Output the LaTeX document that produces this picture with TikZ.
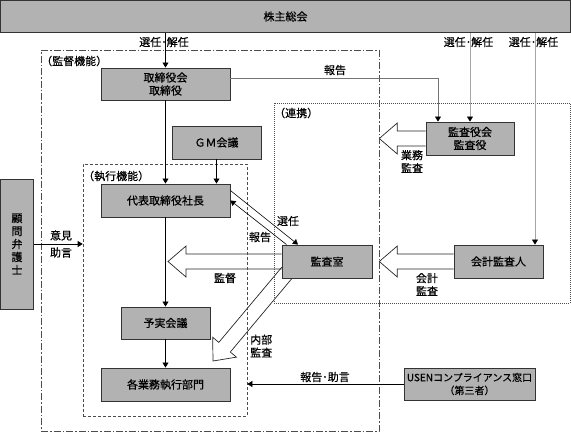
\documentclass[tikz,border=0pt]{standalone}
\usepackage{fontspec}
\setmainfont{Noto Sans CJK JP}[FakeBold=0.5]
\usetikzlibrary{arrows.meta,calc,backgrounds}

\newcommand{\hollowarrow}[2]{%
  \coordinate (hb) at ($(#2)!18pt!(#1)$);
  \draw [hollow] ($(#1)!7.5pt!90:(#2)$) -- ($(hb)!7.5pt!90:(#2)$) -- ($(hb)!15.5pt!90:(#2)$) -- (#2)
    -- ($(hb)!15.5pt!-90:(#2)$) -- ($(hb)!7.5pt!-90:(#2)$) -- ($(#1)!7.5pt!-90:(#2)$);}

\begin{document}
\begin{tikzpicture}[x=1pt,y=-1pt,
  font=\fontsize{11}{13}\selectfont,
  box/.style={draw=black!80, fill=black!30, line width=0.9pt, align=center, inner sep=0pt},
  frame/.style={draw=black!70, line width=0.6pt},
  link/.style={draw=black, line width=0.6pt, -{Triangle[length=5pt,width=6pt,color=black]}},
  glink/.style={link, draw=black!35},
  hollow/.style={draw=black!85, line width=0.7pt},
  lbl/.style={align=center, inner sep=1pt}]

\useasboundingbox (0,0) rectangle (571,432);

\node [frame, dash pattern=on 7pt off 2pt on 1.5pt off 2pt, minimum width=338pt, minimum height=381pt] (supervision) at (210,240.5) {};
\node [frame, dash pattern=on 3pt off 2pt, minimum width=164pt, minimum height=252pt] (execution) at (165,290) {};
\node [frame, dash pattern=on 1pt off 1pt, minimum width=296pt, minimum height=200pt] (cooperation) at (422,203) {};
\node [anchor=west, inner sep=0pt] (supLbl) at (41,61) {（監督機能）};
\node [anchor=west, inner sep=0pt] (exeLbl) at (83,176) {（執行機能）};
\node [anchor=west, inner sep=0pt] (coopLbl) at (274,113) {（連携）};

\node [box, minimum width=570pt, minimum height=32pt] (meeting) at (285.5,16.5) {株主総会};
\node [box, minimum width=129pt, minimum height=32pt] (board) at (165.5,84) {取締役会\\取締役};
\node [box, minimum width=89pt, minimum height=33pt] (gm) at (216.5,142.5) {ＧＭ会議};
\node [box, minimum width=129pt, minimum height=33pt] (ceo) at (165.5,200.5) {代表取締役社長};
\node [box, minimum width=89pt, minimum height=32pt] (yojitsu) at (165.5,323) {予実会議};
\node [box, minimum width=129pt, minimum height=33pt] (depts) at (165.5,384.5) {各業務執行部門};
\node [box, minimum width=33pt, minimum height=130pt] (lawyer) at (17,244) {顧\\問\\弁\\護\\士};
\node [box, minimum width=88pt, minimum height=33pt] (kansayaku) at (470,138.5) {監査役会\\監査役};
\node [box, minimum width=90pt, minimum height=33pt] (kansashitsu) at (327,261.5) {監査室};
\node [box, minimum width=89pt, minimum height=33pt] (kaikei) at (498.5,261.5) {会計監査人};
\node [box, minimum width=131pt, minimum height=32pt, font=\fontsize{10}{13}\selectfont] (usen) at (469.5,384) {USENコンプライアンス窓口\\（第三者）};

\draw [link] (meeting.south -| board.north) -- (board.north);
\draw [link] (board.south) -- (ceo.north);
\draw [link] (gm.south) -- (gm.south |- ceo.north);
\draw [link] (ceo.south) -- (yojitsu.north);
\draw [link] (yojitsu.south) -- (depts.north);
\draw [link] (lawyer.east) -- (lawyer.east -| execution.west);
\draw [link] (usen.west) -- (usen.west -| execution.east);
\draw [link] ([yshift=10pt]ceo.east) -- ([xshift=-29pt]kansashitsu.north);
\draw [link] ([xshift=-40.5pt]kansashitsu.north) -- (ceo.east);

\coordinate (kaikeiIn) at ([xshift=36.5pt]kaikei.north);
\draw [glink, draw=black!55] ([yshift=6pt]board.east) -| ([xshift=-32pt]kansayaku.north);
\draw [glink] (meeting.south -| kansayaku.north) -- (kansayaku.north);
\draw [glink] (meeting.south -| kaikeiIn) -- (kaikeiIn);

\coordinate (tipA) at (supervision.east |- kansayaku.west);
\coordinate (tipB) at (supervision.east |- kaikei.west);
\coordinate (tipC) at (168,261.5);
\coordinate (tailD) at ([xshift=6pt,yshift=-10.5pt]kansashitsu.west);
\coordinate (tipD) at (213,361);
\begin{scope}[on background layer]
\hollowarrow{kansayaku.west}{tipA}
\hollowarrow{kaikei.west}{tipB}
\hollowarrow{kansashitsu.west}{tipC}
\hollowarrow{tailD}{tipD}
\end{scope}

\node [lbl] (sel1) at (164,42) {選任･解任};
\node [lbl] (sel2) at (468.5,42) {選任･解任};
\node [lbl] (sel3) at (533.5,42) {選任･解任};
\node [lbl] (rep1) at (335,70) {報告};
\node [lbl] (advice) at (61,244) {意見\\[4pt]助言};
\node [lbl] (gyomu) at (412,161.5) {業務\\監査};
\node [lbl] (kaikeiLbl) at (427,284.5) {会計\\監査};
\node [lbl] (kantoku) at (225,278) {監督};
\node [lbl] (sennin) at (288,221) {選任};
\node [lbl] (rep2) at (260,237) {報告};
\node [lbl, anchor=west, align=left] (naibu) at (249,346) {内部\\監査};
\node [lbl] (rep3) at (325,377) {報告･助言};
\end{tikzpicture}
\end{document}
